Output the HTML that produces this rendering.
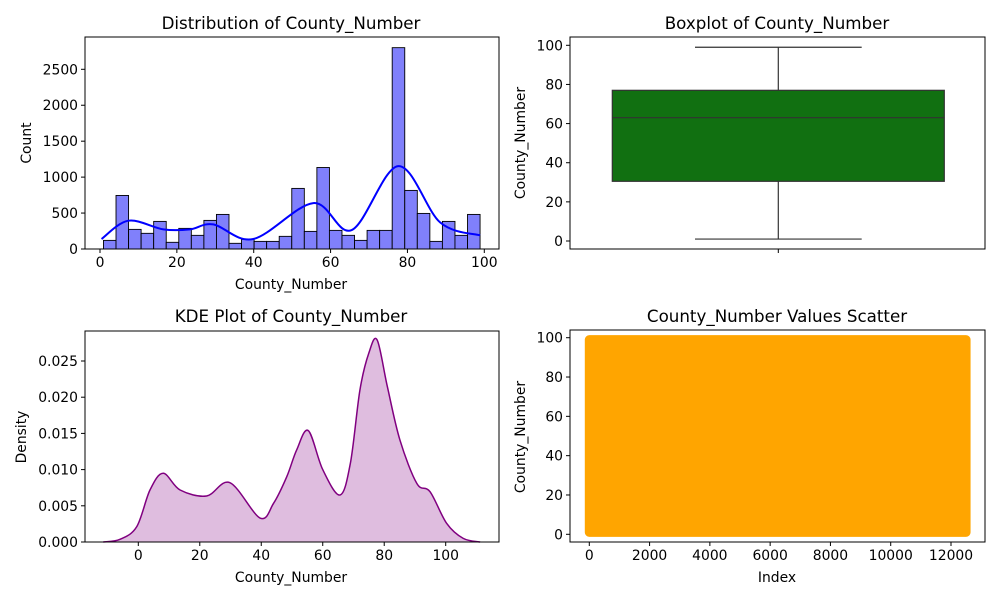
<!DOCTYPE html>
<html><head><meta charset="utf-8"><style>
body{margin:0;background:#fff}
svg{display:block;font-family:"DejaVu Sans","Liberation Sans",sans-serif}
</style></head><body>
<svg id="fig" width="1000" height="600" viewBox="0 0 1000 600"></svg>
<script>
// ---- data ----
const histCounts=[120,745,273,218,384,93,287,190,398,481,79,134,106,106,176,843,245,1134,259,190,120,259,259,2801,815,495,106,384,190,481];
const histStart=0.9, histEnd=98.9;
const histKdeX=[0.4,7.4,16.5,23.4,29.5,39.9,55.5,65.5,77.6,88.5,98.9];
const histKdeY=[139,394,273,273,343,139,639,264,1153,370,190];
const histYTicks=[0,500,1000,1500,2000,2500];
const histXTicks=[0,20,40,60,80,100];
const boxStats=[1,30.5,63,77,99]; // min,q1,median,q3,max
const boxYTicks=[0,20,40,60,80,100];
const kdeX=[-11.4,-5.95,-0.5,3.8,8.1,13.6,22.2,29.8,39.6,44,48.3,51.5,55.3,60,65.6,69,72.1,75,77.7,81,85.1,90.6,94.9,100.3,105.7,111.2];
const kdeY=[0,0.00037,0.00212,0.00718,0.00949,0.00718,0.00635,0.00819,0.00331,0.00534,0.00902,0.0127,0.01538,0.0100,0.00649,0.0109,0.0210,0.0261,0.0279,0.0215,0.0141,0.0081,0.00695,0.00258,0.0005,0];
const kdeYTicks=[0,0.005,0.010,0.015,0.020,0.025];
const kdeXTicks=[0,20,40,60,80,100];
const scatterRange=[0,12500,1,99]; // index min,max, value min,max
const scatterXTicks=[0,2000,4000,6000,8000,10000,12000];
const scatterYTicks=[0,20,40,60,80,100];

const NS="http://www.w3.org/2000/svg";
const svg=document.getElementById('fig');
const TF=13.9, TT=16.7;
function el(tag,attrs,parent,text){const e=document.createElementNS(NS,tag);for(const k in attrs)e.setAttribute(k,attrs[k]);if(text!==undefined)e.textContent=text;(parent||svg).appendChild(e);return e;}
function lin(d0,d1,r0,r1){return v=>r0+(v-d0)*(r1-r0)/(d1-d0);}
function spline(xs,ys,sx,sy){let p=xs.map((x,i)=>[sx(x),sy(ys[i])]);let d='M'+p[0][0]+','+p[0][1];
 for(let i=0;i<p.length-1;i++){const p0=p[Math.max(0,i-1)],p1=p[i],p2=p[i+1],p3=p[Math.min(p.length-1,i+2)];
 const c1=[p1[0]+(p2[0]-p0[0])/6,p1[1]+(p2[1]-p0[1])/6],c2=[p2[0]-(p3[0]-p1[0])/6,p2[1]-(p3[1]-p1[1])/6];
 d+=' C'+c1[0]+','+c1[1]+' '+c2[0]+','+c2[1]+' '+p2[0]+','+p2[1];}return d;}
function frame(g,x0,y0,x1,y1){const r=el('rect',{x:x0,y:y0,width:x1-x0,height:y1-y0,fill:'none',stroke:'#000','stroke-width':1},g);}
function xticks(g,ticks,sx,yb,fmt){ticks.forEach(t=>{const x=sx(t);el('line',{x1:x,x2:x,y1:yb,y2:yb+4,stroke:'#000'},g);const tx=el('text',{x:x,y:yb+18,'font-size':TF,'text-anchor':'middle',fill:'#000'},g,fmt?fmt(t):t);});}
function yticks(g,ticks,sy,xl,fmt){ticks.forEach(t=>{const y=sy(t);el('line',{x1:xl-4,x2:xl,y1:y,y2:y,stroke:'#000'},g);const tx=el('text',{x:xl-7,y:y+5,'font-size':TF,'text-anchor':'end',fill:'#000'},g,fmt?fmt(t):t);});}
function label(g,txt,x,y,rot,size,name){const a={x:x,y:y,'font-size':size,'text-anchor':'middle',fill:'#000'};if(rot)a.transform='rotate(-90 '+x+' '+y+')';const t=el('text',a,g,txt);}

// ---- Histogram ----
(function(){const g=el('g',{});
 const X0=85,X1=499,Y0=37,Y1=249;const sx=lin(0,100,100,484.3),sy=lin(0,2500,249,69.3);
 const w=(histEnd-histStart)/histCounts.length;
 histCounts.forEach((c,i)=>{const a=sx(histStart+i*w),b=sx(histStart+(i+1)*w);const r=el('rect',{x:a,y:sy(c),width:b-a,height:sy(0)-sy(c),fill:'#8080fb',stroke:'#000','stroke-width':0.9},g);});
 const p=el('path',{d:spline(histKdeX,histKdeY,sx,sy),fill:'none',stroke:'#0000ff','stroke-width':2},g);
 frame(g,X0,Y0,X1,Y1);xticks(g,histXTicks,sx,Y1);yticks(g,histYTicks,sy,X0);
 label(g,'Distribution of County_Number',291,29,false,TT,'chart-title');label(g,'County_Number',291,289,false,TF,'x-axis-title');label(g,'Count',31,143,true,TF,'y-axis-title');})();

// ---- Boxplot ----
(function(){const g=el('g',{});
 const X0=570,X1=985,Y0=37,Y1=249;const sy=lin(0,100,241,45.3);const cx=778.3,bl=612.3,br=944.3,cl=695,cr=861.7;
 const [mn,q1,md,q3,mx]=boxStats;
 const r=el('rect',{x:bl,y:sy(q3),width:br-bl,height:sy(q1)-sy(q3),fill:'#117011',stroke:'#333','stroke-width':1.2},g);
 [[cx,sy(q3),cx,sy(mx)],[cx,sy(q1),cx,sy(mn)],[cl,sy(mx),cr,sy(mx)],[cl,sy(mn),cr,sy(mn)],[bl,sy(md),br,sy(md)]].forEach((l,i)=>{const e=el('line',{x1:l[0],y1:l[1],x2:l[2],y2:l[3],stroke:'#333','stroke-width':1.2},g);});
 frame(g,X0,Y0,X1,Y1);el('line',{x1:cx,x2:cx,y1:Y1,y2:Y1+4,stroke:'#000'},g);yticks(g,boxYTicks,sy,X0);
 label(g,'Boxplot of County_Number',777,29,false,TT,'chart-title');label(g,'County_Number',525,143,true,TF,'y-axis-title');})();

// ---- KDE ----
(function(){const g=el('g',{});
 const X0=85,X1=499,Y0=331,Y1=542;const sx=lin(0,100,138.3,445.7),sy=lin(0,0.005,542,505.8);
 const d=spline(kdeX,kdeY,sx,sy);
 const f=el('path',{d:d+' L'+sx(kdeX[kdeX.length-1])+','+sy(0)+' L'+sx(kdeX[0])+','+sy(0)+'Z',fill:'#dfbddf',stroke:'none'},g);
 const p=el('path',{d:d,fill:'none',stroke:'#800080','stroke-width':1.5},g);
 frame(g,X0,Y0,X1,Y1);xticks(g,kdeXTicks,sx,Y1);yticks(g,kdeYTicks,sy,X0,t=>t.toFixed(3));
 label(g,'KDE Plot of County_Number',291,322,false,TT,'chart-title');label(g,'County_Number',291,582,false,TF,'x-axis-title');label(g,'Density',26,437,true,TF,'y-axis-title');})();

// ---- Scatter ----
(function(){const g=el('g',{});
 const X0=570,X1=985,Y0=330,Y1=542;const sx=lin(0,12000,589.3,951),sy=lin(0,100,534.3,337.7);
 const [i0,i1,v0,v1]=scatterRange;
 const r=el('rect',{x:sx(i0)-4.5,y:sy(v1)-4.5,width:sx(i1)-sx(i0)+9,height:sy(v0)-sy(v1)+9,rx:4.5,fill:'#ffa500'},g);
 frame(g,X0,Y0,X1,Y1);xticks(g,scatterXTicks,sx,Y1);yticks(g,scatterYTicks,sy,X0);
 label(g,'County_Number Values Scatter',777,322,false,TT,'chart-title');label(g,'Index',777,582,false,TF,'x-axis-title');label(g,'County_Number',525,437,true,TF,'y-axis-title');})();
</script>
</body></html>
